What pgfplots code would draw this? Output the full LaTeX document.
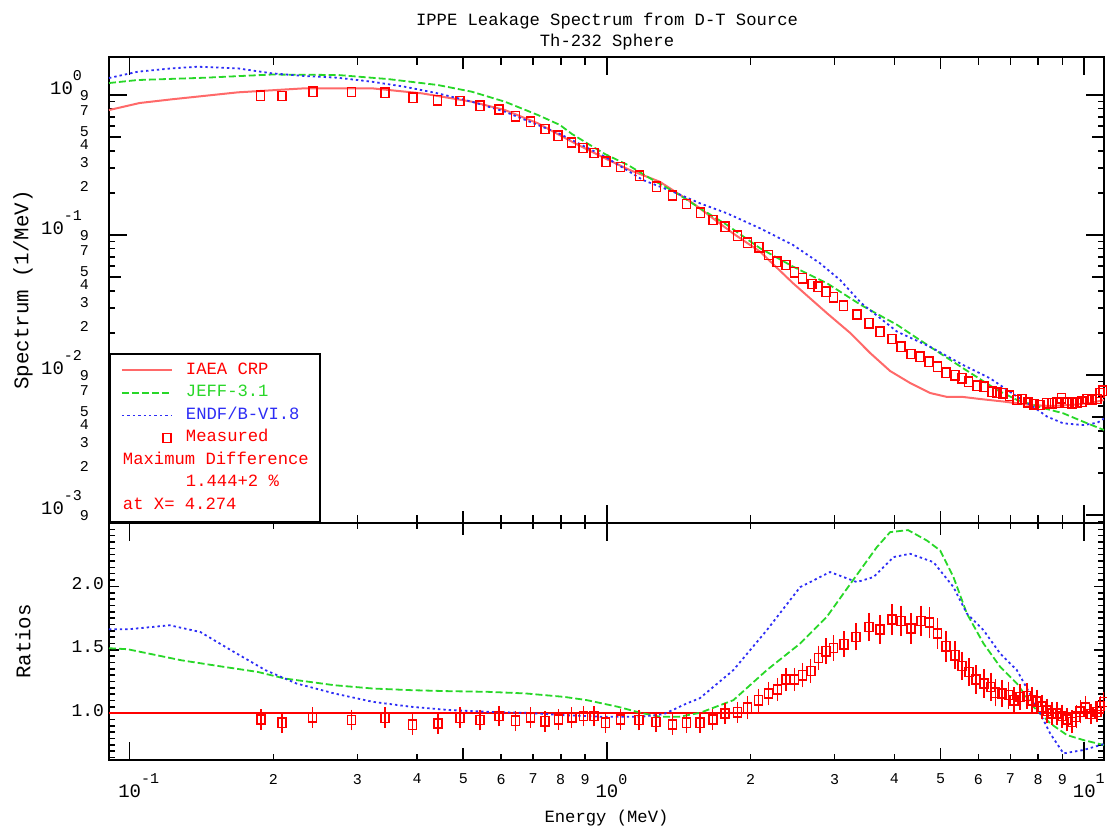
\documentclass[border=0pt]{standalone}
\usepackage{pgfplots}
\pgfplotsset{compat=1.18}
\usepackage{fontspec}
\setmainfont{Liberation Mono}
\definecolor{iaea}{RGB}{255,105,105}
\definecolor{jeff}{RGB}{40,215,40}
\definecolor{endf}{RGB}{45,45,245}
\newcommand{\decy}[1]{10\raisebox{0.7em}{\fontsize{7.5}{8}\selectfont#1}\kern10pt}
\newcommand{\decx}[1]{{\fontsize{9.5}{10}\selectfont 10}\rlap{\raisebox{6.6pt}{\fontsize{7.5}{8}\selectfont#1}}}
\pgfplotsset{mymarkleg/.style={legend image code/.code={\draw[##1] plot coordinates {(22.5pt,0pt)};}}}
\begin{document}
\begin{tikzpicture}
\useasboundingbox (0pt,0pt) rectangle (553.5pt,417pt);
% ---------------- upper panel ----------------
\begin{loglogaxis}[scale only axis, width=497.5pt, height=233pt,
 at={(54.5pt,155.5pt)}, anchor=south west,
 xmin=0.0905, xmax=11.0, ymin=8.77e-4, ymax=1.87,
 axis line style={line width=1pt},
 tick style={black, line width=0.8pt},
 major tick length=9pt, minor tick length=6pt,
 xtick={0.1,1,10}, minor xtick={0.5,5},
 extra x ticks={0.2,0.3,0.4,0.5,0.6,0.7,0.8,0.9,2,3,4,5,6,7,8,9},
 xticklabels={}, extra x tick labels={},
 ytick={0.001,0.01,0.1,1},
 yticklabels={\decy{-3},\decy{-2},\decy{-1},\decy{0}},
 minor ytick={0.005,0.05,0.5},
 extra y ticks={9e-4,0.002,0.003,0.004,0.005,0.006,0.007,0.008,0.009,0.02,0.03,0.04,0.05,0.06,0.07,0.08,0.09,0.2,0.3,0.4,0.5,0.6,0.7,0.8,0.9},
 extra y tick labels={9,2,3,4,5,{},7,{},9,2,3,4,5,{},7,{},9,2,3,4,5,{},7,{},9},
 extra x tick style={major tick length=4pt},
 extra y tick style={major tick length=3pt, yticklabel style={font=\fontsize{7.5}{8}\selectfont, xshift=-6.5pt}},
 yticklabel style={font=\fontsize{9.5}{10}\selectfont, anchor=base east, yshift=0.5pt},
 ylabel={Spectrum (1/MeV)},
 ylabel style={at={(axis description cs:-0.0864,0.5)}, anchor=center, font=\fontsize{10.4}{12}\selectfont},
 legend style={at={(0,0)}, anchor=south west, draw=black, line width=1pt, fill=white,
   inner xsep=5.5pt, inner ysep=3.75pt, row sep=2.25pt, column sep=6.5pt,
   font=\fontsize{8.6}{10}\selectfont,
   nodes={inner sep=0pt, text height=6.5pt, text depth=2.5pt, anchor=west}},
 legend cell align=left,
 legend image code/.code={\draw[#1] (0pt,0pt) -- (25pt,0pt);},
]
\addplot[iaea, line width=1pt, no markers] coordinates {
(0.0905,0.781) (0.1049,0.877) (0.1225,0.932) (0.1684,1.045) (0.2327,1.117) (0.3216,1.117) (0.4095,1.028) (0.5212,0.896) (0.6112,0.781) (0.7167,0.628) (0.8445,0.464) (0.9904,0.353) (1.117,0.291) (1.291,0.240) (1.515,0.1684) (1.837,0.1028) (2.094,0.0760) (2.455,0.0452) (2.892,0.0276) (3.232,0.0200) (3.560,0.01436) (3.921,0.01068) (4.317,0.00877) (4.755,0.00744) (5.162,0.00697) (5.576,0.00697) (6.053,0.00674) (6.765,0.00647) (7.706,0.00611) (8.486,0.00601) (9.346,0.00611) (10.29,0.00631) (11.0,0.00663)};
\addlegendentry{\textcolor{red}{IAEA CRP}}
\addplot[jeff, line width=0.9pt, dash pattern=on 3.5pt off 1.5pt, no markers] coordinates {
(0.0905,1.218) (0.1039,1.280) (0.1436,1.329) (0.1985,1.401) (0.2730,1.390) (0.3474,1.301) (0.4423,1.179) (0.5212,1.056) (0.6112,0.896) (0.7167,0.720) (0.7972,0.611) (0.8445,0.527) (0.9346,0.427) (0.9904,0.379) (1.107,0.316) (1.249,0.247) (1.402,0.1985) (1.567,0.1551) (1.785,0.1179) (2.094,0.0804) (2.455,0.0594) (2.892,0.0452) (3.408,0.0316) (4.055,0.0228) (4.755,0.0159) (5.576,0.01117) (6.571,0.00781) (7.236,0.00663) (8.204,0.00581) (9.036,0.00533) (9.952,0.00464) (11.0,0.00405)};
\addlegendentry{\textcolor{jeff}{JEFF-3.1}}
\addplot[endf, line width=0.9pt, dash pattern=on 1.2pt off 1.5pt, no markers] coordinates {
(0.0905,1.323) (0.1039,1.467) (0.1225,1.551) (0.1388,1.593) (0.1684,1.551) (0.1985,1.429) (0.2327,1.367) (0.2730,1.329) (0.3216,1.245) (0.3771,1.146) (0.4423,1.028) (0.5212,0.896) (0.6112,0.760) (0.7167,0.611) (0.7972,0.527) (0.8445,0.477) (0.9904,0.3625) (1.190,0.247) (1.402,0.1985) (1.567,0.1684) (1.785,0.1429) (2.094,0.1116) (2.455,0.0848) (2.796,0.0628) (3.080,0.0477) (3.408,0.0327) (4.055,0.0204) (4.755,0.0159) (5.576,0.01179) (6.352,0.00947) (7.236,0.0070) (7.815,0.00594) (8.364,0.00504) (9.036,0.00452) (9.952,0.00439) (10.65,0.00456) (11.0,0.00489)};
\addlegendentry{\textcolor{endf}{ENDF/B-VI.8}}
\addplot[only marks, red, mark=square, mark size=2pt, mark options={line width=0.75pt, yscale=1.15}, mymarkleg] coordinates {
(0.188,0.989) (0.2086,0.984) (0.2419,1.056) (0.2916,1.05) (0.3424,1.038) (0.392,0.956) (0.441,0.917) (0.4925,0.906) (0.5417,0.839) (0.5935,0.790) (0.6437,0.705) (0.6918,0.645) (0.7424,0.572) (0.7906,0.512) (0.8433,0.458) (0.8906,0.418) (0.9402,0.385) (0.9943,0.334) (1.067,0.306) (1.169,0.265) (1.271,0.221) (1.373,0.192) (1.469,0.1665) (1.572,0.1443) (1.666,0.128) (1.768,0.1146) (1.876,0.0989) (1.972,0.0881) (2.080,0.0817) (2.179,0.0720) (2.272,0.0645) (2.373,0.0611) (2.470,0.0542) (2.567,0.0491) (2.686,0.0447) (2.765,0.0427) (2.878,0.0394) (2.981,0.0359) (3.131,0.0313) (3.338,0.0270) (3.536,0.0234) (3.735,0.0204) (3.953,0.0181) (4.134,0.0159) (4.338,0.0141) (4.531,0.0135) (4.732,0.01245) (4.926,0.01146) (5.137,0.01038) (5.365,0.00995) (5.541,0.00947) (5.720,0.00896) (5.958,0.00839) (6.171,0.00825) (6.405,0.0076) (6.561,0.00747) (6.755,0.0074) (6.973,0.00711) (7.226,0.00663) (7.403,0.00674) (7.621,0.00638) (7.856,0.00618) (8.087,0.0061) (8.325,0.00628) (8.556,0.00628) (8.766,0.00634) (8.95,0.00682) (9.198,0.00634) (9.424,0.00628) (9.654,0.00634) (9.890,0.00645) (10.13,0.00674) (10.38,0.00663) (10.63,0.00674) (10.80,0.00743) (10.94,0.00772)};
\addlegendentry{\textcolor{red}{Measured}}
\addlegendimage{empty legend}
\addlegendentry{\hspace*{-31.5pt}\textcolor{red}{Maximum Difference}}
\addlegendimage{empty legend}
\addlegendentry{\textcolor{red}{1.444+2 \%}}
\addlegendimage{empty legend}
\addlegendentry{\hspace*{-31.5pt}\textcolor{red}{at X= 4.274}}
\end{loglogaxis}
% ---------------- lower panel ----------------
\begin{semilogxaxis}[scale only axis, width=497.5pt, height=118.5pt,
 at={(54.5pt,155.5pt)}, anchor=north west,
 xmin=0.0905, xmax=11.0, ymin=0.63, ymax=2.5,
 axis line style={line width=1pt},
 tick style={black, line width=0.8pt},
 major tick length=3pt, minor tick length=6pt,
 xtick={0.1,0.2,0.3,0.4,0.5,0.6,0.7,0.8,0.9,1,2,3,4,5,6,7,8,9,10},
 xticklabels={\decx{-1},2,3,4,5,6,7,8,9,\decx{0},2,3,4,5,6,7,8,9,\decx{1}},
 xticklabel style={font=\fontsize{7.5}{8}\selectfont, anchor=north, yshift=-3.5pt},
 minor xtick={0.5,5},
 extra x ticks={0.1,1,10},
 extra x tick labels={\relax,\relax,\relax},
 extra x tick style={major tick length=9pt},
 ytick={0.65,0.7,0.75,0.8,0.85,0.9,0.95,1.05,1.1,1.15,1.2,1.25,1.3,1.35,1.4,1.45,1.55,1.6,1.65,1.7,1.75,1.8,1.85,1.9,1.95,2.05,2.1,2.15,2.2,2.25,2.3,2.35,2.4,2.45},
 yticklabels={},
 extra y ticks={1,1.5,2},
 extra y tick labels={1.0,1.5,2.0},
 extra y tick style={major tick length=5pt, yticklabel style={font=\fontsize{9}{10}\selectfont, anchor=base east, xshift=1pt, yshift=-1.5pt}},
 ylabel={Ratios},
 ylabel style={at={(axis description cs:-0.0864,0.5)}, anchor=center, font=\fontsize{10.4}{12}\selectfont},
 xlabel={Energy (MeV)},
 xlabel style={at={(axis description cs:0.5,0)}, anchor=center, yshift=-29pt, font=\fontsize{8.6}{10}\selectfont},
]
\addplot[red, line width=0.9pt, no markers] coordinates {(0.0905,1) (11.0,1)};
\addplot[jeff, line width=0.9pt, dash pattern=on 3.5pt off 1.5pt, no markers] coordinates {
(0.0905,1.512) (0.0990,1.504) (0.1282,1.417) (0.1543,1.370) (0.1854,1.325) (0.2112,1.273) (0.2685,1.220) (0.3230,1.194) (0.3886,1.181) (0.4673,1.173) (0.5622,1.168) (0.6763,1.155) (0.8135,1.128) (0.9087,1.102) (1.054,1.050) (1.177,1.002) (1.291,0.971) (1.416,0.971) (1.566,1.002) (1.840,1.102) (2.162,1.339) (2.539,1.549) (2.886,1.758) (3.129,1.943) (3.391,2.126) (3.676,2.309) (3.921,2.428) (4.274,2.444) (4.679,2.362) (4.991,2.283) (5.321,2.073) (5.677,1.785) (6.151,1.549) (6.667,1.365) (7.226,1.234) (7.826,1.050) (8.486,0.919) (9.198,0.827) (9.966,0.787) (11.0,0.748)};
\addplot[endf, line width=0.9pt, dash pattern=on 1.2pt off 1.5pt, no markers] coordinates {
(0.0905,1.661) (0.0990,1.661) (0.1213,1.693) (0.1406,1.640) (0.1631,1.496) (0.1925,1.339) (0.2234,1.234) (0.2685,1.155) (0.3230,1.089) (0.3886,1.050) (0.4673,1.024) (0.5622,1.010) (0.6763,1.002) (0.8135,0.984) (0.9786,0.971) (1.177,0.971) (1.315,0.992) (1.469,1.076) (1.566,1.118) (1.840,1.339) (2.162,1.654) (2.539,1.994) (2.934,2.113) (3.338,2.034) (3.617,2.073) (3.984,2.231) (4.317,2.257) (4.832,2.191) (5.321,1.994) (5.677,1.785) (6.151,1.654) (6.667,1.470) (7.226,1.339) (7.826,1.102) (8.486,0.839) (9.048,0.682) (9.966,0.709) (11.0,0.756)};
\addplot[only marks, red, mark=square, mark size=2pt, mark options={line width=0.75pt, yscale=1.15},
 error bars/.cd, y dir=both, y explicit,
 error bar style={red, line width=0.7pt},
 error mark options={red, mark size=2pt, line width=0.7pt}] coordinates {
(0.1883,0.950) +- (0,0.05) (0.2086,0.924) +- (0,0.05) (0.2417,0.966) +- (0,0.05) (0.2917,0.945) +- (0,0.05) (0.3425,0.963) +- (0,0.05) (0.3914,0.908) +- (0,0.05) (0.4423,0.919) +- (0,0.05) (0.4923,0.963) +- (0,0.05) (0.5417,0.945) +- (0,0.05) (0.5939,0.976) +- (0,0.05) (0.6434,0.939) +- (0,0.05) (0.6912,0.966) +- (0,0.05) (0.7418,0.935) +- (0,0.05) (0.7914,0.950) +- (0,0.05) (0.8438,0.966) +- (0,0.05) (0.8922,0.976) +- (0,0.05) (0.9397,0.976) +- (0,0.05) (0.9933,0.924) +- (0,0.05) (1.067,0.950) +- (0,0.05) (1.167,0.945) +- (0,0.05) (1.268,0.931) +- (0,0.05) (1.372,0.911) +- (0,0.05) (1.469,0.924) +- (0,0.05) (1.567,0.924) +- (0,0.05)
(1.666,0.950) +- (0,0.05) (1.768,0.998) +- (0,0.05) (1.876,1.006) +- (0,0.05) (1.972,1.042) +- (0,0.06) (2.075,1.102) +- (0,0.06) (2.179,1.155) +- (0,0.06) (2.275,1.187) +- (0,0.06) (2.373,1.265) +- (0,0.06) (2.470,1.265) +- (0,0.06) (2.567,1.299) +- (0,0.065) (2.673,1.333) +- (0,0.065) (2.773,1.435) +- (0,0.065) (2.878,1.488) +- (0,0.07) (2.981,1.514) +- (0,0.07) (3.139,1.543) +- (0,0.07) (3.327,1.601) +- (0,0.075) (3.543,1.680) +- (0,0.08) (3.735,1.659) +- (0,0.08) (3.953,1.738) +- (0,0.09) (4.134,1.727) +- (0,0.09) (4.332,1.667) +- (0,0.09) (4.547,1.727) +- (0,0.09) (4.740,1.714) +- (0,0.09) (4.926,1.628) +- (0,0.09) (5.137,1.528) +- (0,0.09) (5.365,1.457) +- (0,0.08) (5.549,1.372) +- (0,0.08) (5.737,1.325) +- (0,0.08) (5.929,1.265) +- (0,0.08) (6.171,1.234) +- (0,0.08) (6.374,1.207) +- (0,0.08) (6.510,1.160) +- (0,0.075) (6.721,1.155) +- (0,0.075) (6.939,1.142) +- (0,0.075) (7.132,1.102) +- (0,0.07) (7.342,1.128) +- (0,0.07) (7.584,1.134) +- (0,0.07) (7.770,1.102) +- (0,0.07) (7.958,1.089) +- (0,0.065) (8.152,1.050) +- (0,0.065) (8.352,1.018) +- (0,0.065) (8.556,0.998) +- (0,0.06) (8.766,0.998) +- (0,0.06) (8.981,0.976) +- (0,0.06) (9.198,0.950) +- (0,0.06) (9.424,0.931) +- (0,0.06) (9.620,0.971) +- (0,0.06) (9.808,1.010) +- (0,0.06) (10.05,1.045) +- (0,0.06) (10.34,0.992) +- (0,0.05) (10.63,1.008) +- (0,0.05) (10.80,1.055) +- (0,0.05) (10.96,1.087) +- (0,0.05)};
\end{semilogxaxis}
\node[font=\fontsize{8.6}{10}\selectfont] at (303.5pt,406.5pt) {IPPE Leakage Spectrum from D-T Source};
\node[font=\fontsize{8.6}{10}\selectfont] at (303.5pt,396pt) {Th-232 Sphere};
\end{tikzpicture}
\end{document}
